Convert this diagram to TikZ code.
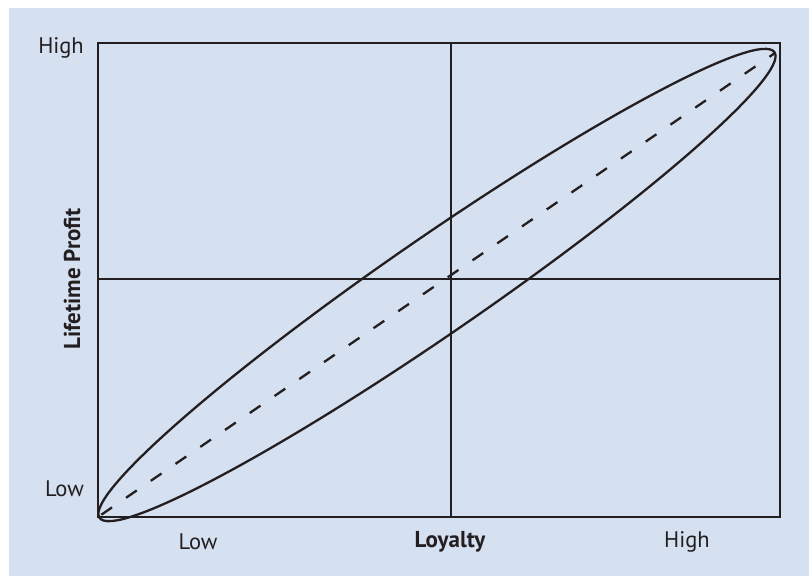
\documentclass[tikz,border=0pt]{standalone}
\usepackage{fontspec}
\setmainfont{PT Sans}
\definecolor{bgblue}{RGB}{213,224,240}
\definecolor{ink}{RGB}{35,31,32}
\begin{document}
\begin{tikzpicture}[x=1pt,y=-1pt,
  axisline/.style={draw=ink,line width=2.3pt},
  lbl/.style={text=ink,inner sep=0pt,font=\fontsize{22.5}{26}\selectfont},
  boldlbl/.style={lbl,font=\fontsize{23}{27}\selectfont\bfseries}]
\useasboundingbox (0,0) rectangle (809,576);
\fill[white] (0,0) rectangle (809,576);
\fill[bgblue] (9,8) rectangle (809,576);
\coordinate (bl) at (98,517);
\coordinate (tr) at (780,43);
\coordinate (tm) at (451,43);
\coordinate (bm) at (451,517);
\coordinate (ml) at (98,279);
\coordinate (mr) at (780,279);
\coordinate (dend) at (775,53);
\coordinate (ec) at (437,285);
\draw[axisline] (bl) rectangle (tr);
\draw[axisline] (tm) -- (bm);
\draw[axisline] (ml) -- (mr);
\draw[draw=ink,line width=2.3pt,dash pattern=on 13pt off 17pt,dash phase=-4pt] (bl) -- (dend);
\draw[draw=ink,line width=2.3pt,rotate around={34.6:(ec)}] (ec) ellipse [x radius=410pt,y radius=48pt];
\node[lbl,anchor=east] (yhigh) at (84,48) {High};
\node[lbl,anchor=east] (ylow) at (84,489) {Low};
\node[lbl] (xlow) at (198,542) {Low};
\node[boldlbl] (xtitle) at (450,542) {Loyalty};
\node[lbl] (xhigh) at (687,542) {High};
\node[boldlbl,rotate=90] (ytitle) at (72,279) {Lifetime Profit};
\end{tikzpicture}
\end{document}
